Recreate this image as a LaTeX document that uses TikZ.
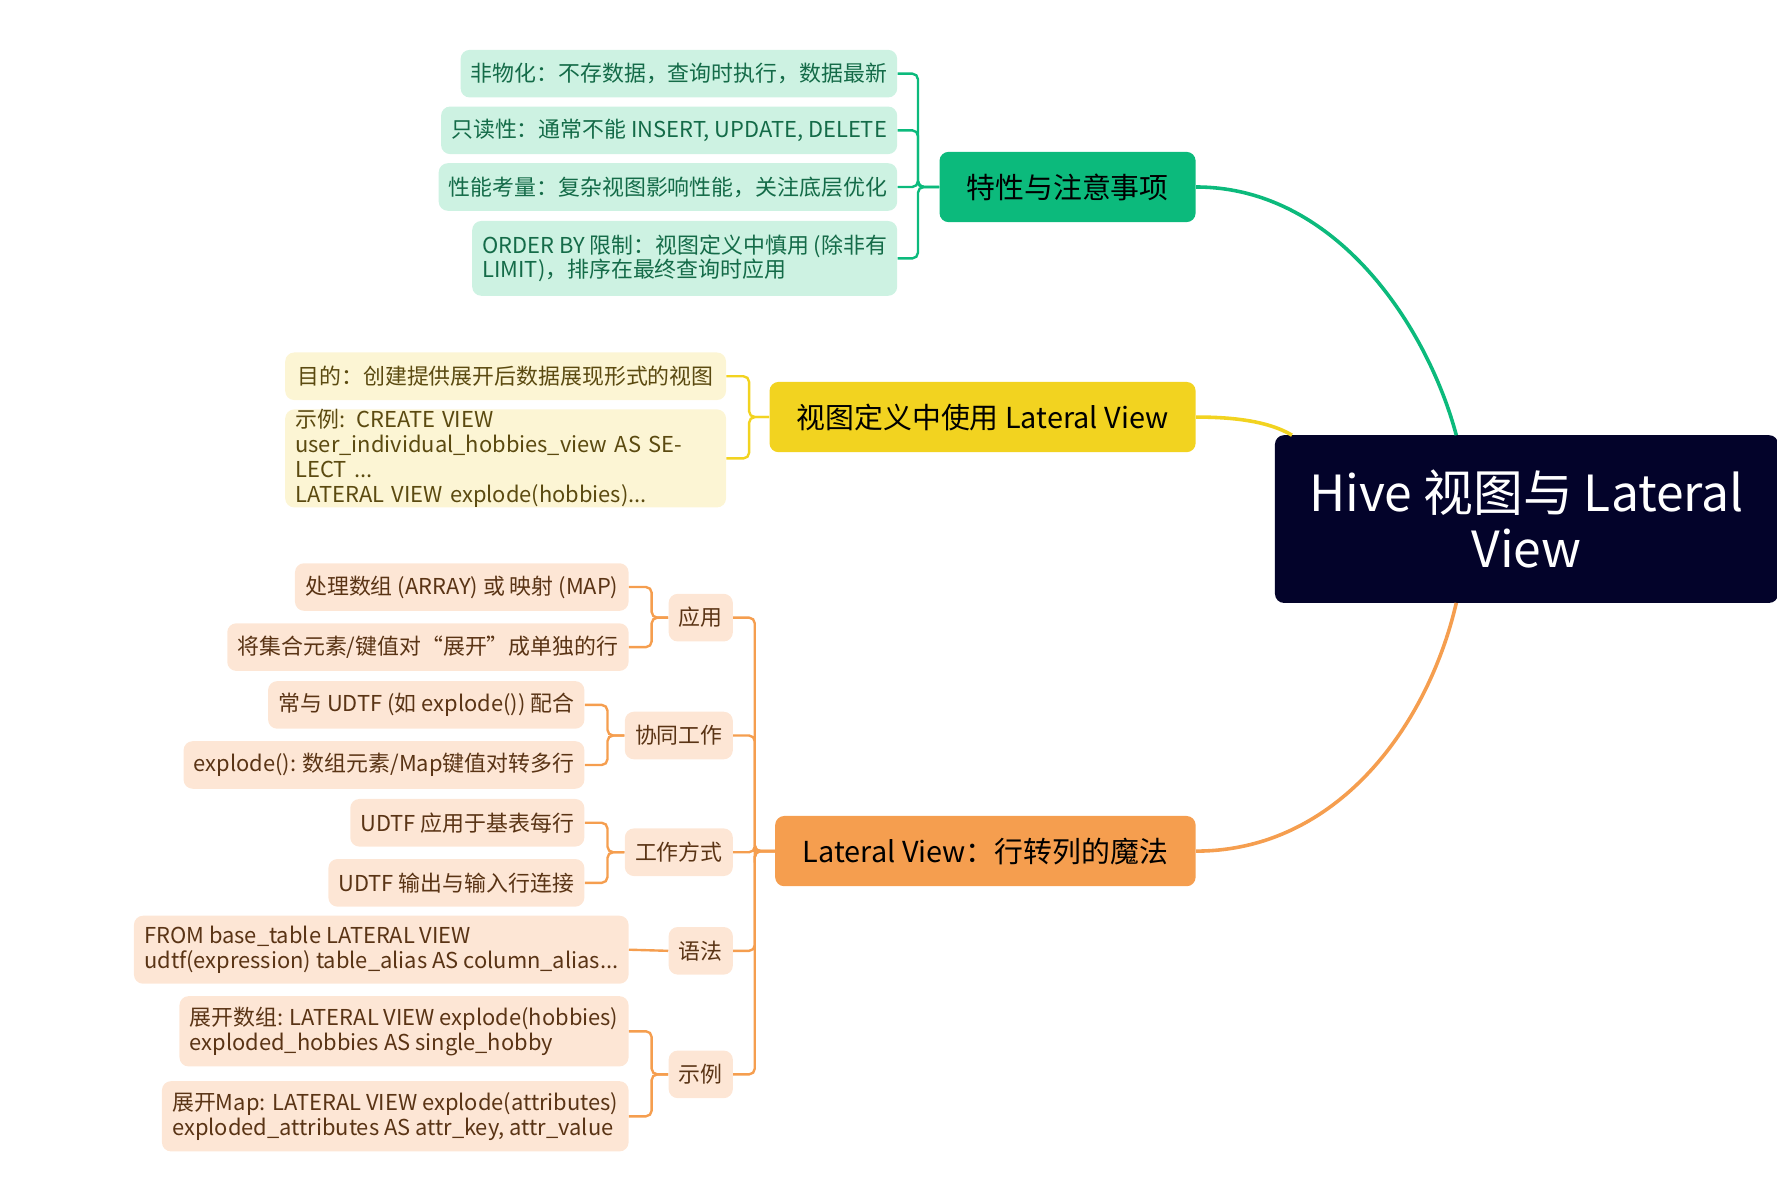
\documentclass[tikz,border=0pt]{standalone}
\usepackage{fontspec}
\setmainfont{Noto Sans CJK SC}
\newdimen\px \px=0.02cm
\definecolor{rootc}{HTML}{03032A}
\definecolor{grn}{HTML}{0CBA7C}
\definecolor{grnl}{HTML}{CDF2E2}
\definecolor{grnt}{HTML}{146B48}
\definecolor{ylw}{HTML}{F2D320}
\definecolor{ylwl}{HTML}{FCF5D4}
\definecolor{ylwt}{HTML}{5B4A10}
\definecolor{org}{HTML}{F59E4F}
\definecolor{orgl}{HTML}{FDE6D5}
\definecolor{orgt}{HTML}{5A3415}
\tikzset{
  box/.style={rounded corners=8\px, inner xsep=9\px, inner ysep=0pt, align=left, font=\fontsize{11}{12.5}\selectfont},
  gleaf/.style={box, fill=grnl, text=grnt, anchor=east},
  yleaf/.style={box, fill=ylwl, text=ylwt, anchor=east},
  oleaf/.style={box, fill=orgl, text=orgt, anchor=east},
  topic/.style={rounded corners=8\px, inner sep=0pt, font=\fontsize{14.5}{16}\selectfont},
  gline/.style={grn, line width=1.2pt, rounded corners=5\px},
  yline/.style={ylw, line width=1.2pt, rounded corners=5\px},
  oline/.style={org, line width=1.2pt, rounded corners=5\px},
}
\begin{document}
\begin{tikzpicture}[x=0.02cm, y=-0.02cm]

    \useasboundingbox (0,0) rectangle (1568,1061);

    % root
    \node[fill=rootc, text=white, rounded corners=8\px, minimum width=444\px, minimum height=148\px,
      align=center, font=\fontsize{25}{28}\selectfont] (root) at (1347,458) {Hive 视图与 Lateral\\View};

    % topics
    \node[topic, fill=grn, minimum width=226\px, minimum height=62\px] (gt) at (942,165) {特性与注意事项};
    \node[topic, fill=ylw, minimum width=376\px, minimum height=62\px] (yt) at (867,368) {视图定义中使用 Lateral View};
    \node[topic, fill=org, minimum width=371\px, minimum height=62\px] (ot) at (869.5,751) {Lateral View：行转列的魔法};

    % root -> topics
    \draw[grn, line width=1.8pt] (gt.east) .. controls (1180,165) and (1260,290) .. (1285,384);
    \draw[ylw, line width=1.8pt] (yt.east) .. controls (1090,368) and (1120,372) .. (1140,384);
    \draw[org, line width=1.8pt] (ot.east) .. controls (1180,751) and (1260,640) .. (1285,532);

    % green leaves
    \node[gleaf, minimum height=42\px] (g1) at (792,65) {非物化：不存数据，查询时执行，数据最新};
    \node[gleaf, minimum height=42\px] (g2) at (792,115) {只读性：通常不能 INSERT, UPDATE, DELETE};
    \node[gleaf, minimum height=42\px] (g3) at (792,165) {性能考量：复杂视图影响性能，关注底层优化};
    \node[gleaf, minimum height=66\px] (g4) at (792,228) {ORDER BY 限制：视图定义中慎用 (除非有\\LIMIT)，排序在最终查询时应用};
    \coordinate (gb) at (810,165);
    \foreach \n in {g1,g2,g3,g4}
      \draw[gline] (gt.west) -- (gb) |- (\n.east);

    % yellow leaves
    \node[yleaf, minimum height=42\px, minimum width=389\px] (y1) at (641,332) {目的：创建提供展开后数据展现形式的视图};
    \node[yleaf, minimum height=85\px, text width=371\px] (y2) at (641,404.5) {示例: CREATE VIEW\\user\_individual\_hobbies\_view AS SELECT ...\\LATERAL VIEW explode(hobbies)...};
    \coordinate (yb) at (661,368);
    \foreach \n in {y1,y2}
      \draw[yline] (yt.west) -- (yb) |- (\n.east);

    % orange subtopics
    \node[oleaf, minimum height=42\px] (o1) at (647,545) {应用};
    \node[oleaf, minimum height=42\px] (o2) at (647,649) {协同工作};
    \node[oleaf, minimum height=42\px] (o3) at (647,752) {工作方式};
    \node[oleaf, minimum height=42\px] (o4) at (647,839) {语法};
    \node[oleaf, minimum height=42\px] (o5) at (647,948) {示例};
    \coordinate (ob) at (666,751);
    \foreach \n in {o1,o2,o3,o4,o5}
      \draw[oline] (ot.west) -- (ob) |- (\n.east);

    % orange leaves
    \node[oleaf, minimum height=42\px] (a1) at (555,518) {处理数组 (ARRAY) 或 映射 (MAP)};
    \node[oleaf, minimum height=42\px] (a2) at (555,571) {将集合元素/键值对“展开”成单独的行};
    \node[oleaf, minimum height=42\px] (b1) at (516,622) {常与 UDTF (如 explode()) 配合};
    \node[oleaf, minimum height=42\px] (b2) at (516,675) {explode(): 数组元素/Map键值对转多行};
    \node[oleaf, minimum height=42\px] (c1) at (516,726) {UDTF 应用于基表每行};
    \node[oleaf, minimum height=42\px] (c2) at (516,779) {UDTF 输出与输入行连接};
    \node[oleaf, minimum height=60\px] (d1) at (555,838) {FROM base\_table LATERAL VIEW\\udtf(expression) table\_alias AS column\_alias...};
    \node[oleaf, minimum height=62\px] (e1) at (555,910) {展开数组: LATERAL VIEW explode(hobbies)\\exploded\_hobbies AS single\_hobby};
    \node[oleaf, minimum height=62\px] (e2) at (555,985) {展开Map: LATERAL VIEW explode(attributes)\\exploded\_attributes AS attr\_key, attr\_value};

    \coordinate (ab) at (575,545);
    \coordinate (bb) at (536,649);
    \coordinate (cb) at (536,752);
    \coordinate (eb) at (575,948);
    \foreach \n in {a1,a2} \draw[oline] (o1.west) -- (ab) |- (\n.east);
    \foreach \n in {b1,b2} \draw[oline] (o2.west) -- (bb) |- (\n.east);
    \foreach \n in {c1,c2} \draw[oline] (o3.west) -- (cb) |- (\n.east);
    \draw[oline] (o4.west) -- (d1.east);
    \foreach \n in {e1,e2} \draw[oline] (o5.west) -- (eb) |- (\n.east);

\end{tikzpicture}
\end{document}
